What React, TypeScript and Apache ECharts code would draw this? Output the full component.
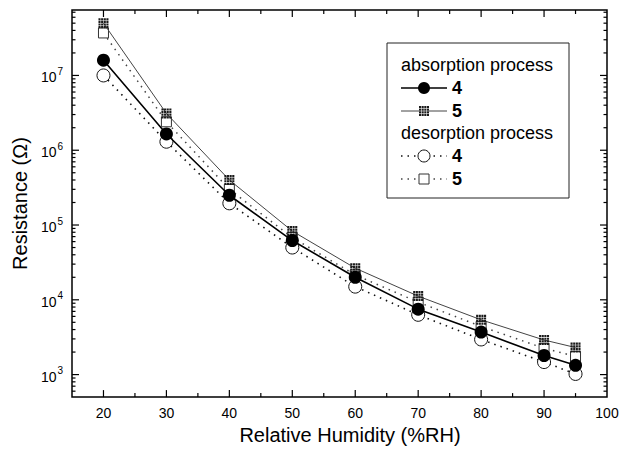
import React, { useEffect, useRef } from "react";
import * as echarts from "echarts";

// ---- data ----
const humidity = [20, 30, 40, 50, 60, 70, 80, 90, 95];
const absorption4 = [1.6e7, 1.65e6, 2.5e5, 6.2e4, 2.0e4, 7.5e3, 3.7e3, 1.8e3, 1.33e3];
const absorption5 = [5.0e7, 3.1e6, 4.0e5, 8.3e4, 2.65e4, 1.12e4, 5.4e3, 2.9e3, 2.3e3];
const desorption4 = [1.0e7, 1.3e6, 1.95e5, 5.0e4, 1.5e4, 6.3e3, 2.95e3, 1.47e3, 1.02e3];
const desorption5 = [3.7e7, 2.4e6, 3.0e5, 6.8e4, 2.15e4, 9.3e3, 4.4e3, 2.25e3, 1.75e3];

const xMin = 15;
const xMax = 100;
const yMin = 500;
const yMax = 7.5e7;

const xTickValues = [20, 25, 30, 35, 40, 45, 50, 55, 60, 65, 70, 75, 80, 85, 90, 95];
const yDecades = [100, 1000, 10000, 100000, 1000000, 10000000];
const yMinorMultipliers = [1, 2, 3, 4, 5, 6, 7, 8, 9];

const FONT = "'Liberation Sans', Arial, Helvetica, sans-serif";

function gridSquarePath() {
  let d = "";
  const cell = 2.4;
  const gap = 0.6;
  for (let i = 0; i < 4; i++) {
    for (let j = 0; j < 4; j++) {
      const x = i * (cell + gap);
      const y = j * (cell + gap);
      d += `M${x},${y}h${cell}v${cell}h-${cell}z`;
    }
  }
  return "path://" + d;
}

function gridSquareRects(cx: number, cy: number, size: number, z: number) {
  const items: any[] = [
    { type: "rect", shape: { x: cx - size / 2, y: cy - size / 2, width: size, height: size }, style: { fill: "#fff" }, z },
  ];
  const cell = size / 4.75;
  const gap = (size - 4 * cell) / 3;
  for (let i = 0; i < 4; i++) {
    for (let j = 0; j < 4; j++) {
      items.push({
        type: "rect",
        shape: { x: cx - size / 2 + i * (cell + gap), y: cy - size / 2 + j * (cell + gap), width: cell, height: cell },
        style: { fill: "#1a1a1a" },
        z: z + 1,
      });
    }
  }
  return items;
}

export default function App() {
  const ref = useRef<HTMLDivElement>(null);

  useEffect(() => {
    if (!ref.current) return;
    const chart = echarts.init(ref.current, null, { renderer: "svg" });

    const yTickData: number[][] = [];
    yDecades.forEach((d) => {
      yMinorMultipliers.forEach((m) => {
        const v = d * m;
        if (v > yMin && v < yMax) yTickData.push([xMin, v, m === 1 ? 1 : 0]);
      });
    });
    const xTickData = xTickValues.map((x) => [x, yMin, x % 10 === 0 ? 1 : 0]);

    const isPow10 = (v: number) => {
      const l = Math.log10(v);
      return Math.abs(l - Math.round(l)) < 1e-6;
    };

    const mk = (xs: number[], ys: number[]) => xs.map((x, i) => [x, ys[i]]);

    const legendX = 401;
    const legendLineEnd = 447;
    const legendMarkX = 424;
    const rows = { h1: 65, a4: 88, a5: 111, h2: 133, d4: 156, d5: 179 };

    const labelStyle = (text: string, y: number, bold: boolean, x: number) => ({
      type: "text",
      x,
      y,
      style: {
        text,
        fontSize: 18,
        fontWeight: bold ? "bold" : "normal",
        fontFamily: FONT,
        fill: "#000",
        verticalAlign: "middle",
      },
      z: 11,
    });

    const option: any = {
      animation: false,
      backgroundColor: "#fff",
      textStyle: { fontFamily: FONT },
      grid: {
        left: 72,
        right: 27,
        top: 10,
        bottom: 46,
        show: true,
        borderColor: "#000",
        borderWidth: 1.5,
        backgroundColor: "transparent",
      },
      xAxis: {
        type: "value",
        min: xMin,
        max: xMax,
        interval: 5,
        axisLine: { show: false },
        axisTick: { show: false },
        splitLine: { show: false },
        axisLabel: {
          color: "#000",
          fontSize: 14,
          fontFamily: FONT,
          margin: 9,
          formatter: (v: number) => (v % 10 === 0 ? String(v) : ""),
        },
        name: "Relative Humidity (%RH)",
        nameLocation: "middle",
        nameGap: 25,
        nameTextStyle: { color: "#000", fontSize: 20, fontFamily: FONT, padding: [0, 0, 0, 21] },
      },
      yAxis: {
        type: "log",
        logBase: 10,
        min: yMin,
        max: yMax,
        axisLine: { show: false },
        axisTick: { show: false },
        splitLine: { show: false },
        axisLabel: {
          color: "#000",
          margin: 9,
          formatter: (v: number) => {
            if (!isPow10(v)) return "";
            const e = Math.round(Math.log10(v));
            return `{b|10}{s|${e}}`;
          },
          rich: {
            b: { fontSize: 14, fontFamily: FONT, color: "#000", lineHeight: 18, verticalAlign: "bottom" },
            s: { fontSize: 10, fontFamily: FONT, color: "#000", lineHeight: 18, verticalAlign: "top", padding: [0, 0, 0, 1] },
          },
        },
        name: "Resistance (\u03A9)",
        nameLocation: "middle",
        nameGap: 35,
        nameTextStyle: { color: "#000", fontSize: 20, fontFamily: FONT },
      },
      series: [
        {
          name: "desorption 5",
          type: "line",
          data: mk(humidity, desorption5),
          symbol: "rect",
          symbolSize: 10,
          lineStyle: { color: "#444", width: 1.5, type: [1.5, 5] },
          itemStyle: { color: "#fff", borderColor: "#333", borderWidth: 1 },
          z: 2,
        },
        {
          name: "desorption 4",
          type: "line",
          data: mk(humidity, desorption4),
          symbol: "circle",
          symbolSize: 13,
          lineStyle: { color: "#111", width: 1.6, type: [1.5, 5] },
          itemStyle: { color: "#fff", borderColor: "#111", borderWidth: 1 },
          z: 3,
        },
        {
          name: "absorption 5",
          type: "line",
          data: mk(humidity, absorption5),
          symbol: gridSquarePath(),
          symbolSize: 10,
          lineStyle: { color: "#444", width: 1 },
          itemStyle: { color: "#1a1a1a" },
          z: 4,
        },
        {
          name: "absorption 4",
          type: "line",
          data: mk(humidity, absorption4),
          symbol: "circle",
          symbolSize: 13,
          lineStyle: { color: "#000", width: 1.6 },
          itemStyle: { color: "#000" },
          z: 5,
        },
        {
          type: "custom",
          silent: true,
          clip: false,
          data: yTickData,
          encode: { x: 0, y: 1 },
          z: 6,
          renderItem: (params: any, api: any) => {
            const v = api.value(1);
            const major = api.value(2);
            const L = api.coord([xMin, v]);
            const R = api.coord([xMax, v]);
            const len = major ? 7 : 3.5;
            return {
              type: "group",
              children: [
                { type: "line", shape: { x1: L[0], y1: L[1], x2: L[0] + len, y2: L[1] }, style: { stroke: "#000", lineWidth: 1.2 } },
                { type: "line", shape: { x1: R[0], y1: R[1], x2: R[0] - len, y2: R[1] }, style: { stroke: "#000", lineWidth: 1.2 } },
              ],
            };
          },
        },
        {
          type: "custom",
          silent: true,
          clip: false,
          data: xTickData,
          encode: { x: 0, y: 1 },
          z: 6,
          renderItem: (params: any, api: any) => {
            const x = api.value(0);
            const major = api.value(2);
            const B = api.coord([x, yMin]);
            const T = api.coord([x, yMax]);
            const len = major ? 7 : 4;
            return {
              type: "group",
              children: [
                { type: "line", shape: { x1: B[0], y1: B[1], x2: B[0], y2: B[1] - len }, style: { stroke: "#000", lineWidth: 1.2 } },
                { type: "line", shape: { x1: T[0], y1: T[1], x2: T[0], y2: T[1] + len }, style: { stroke: "#000", lineWidth: 1.2 } },
              ],
            };
          },
        },
      ],
      graphic: [
        {
          type: "rect",
          shape: { x: 387, y: 43, width: 182, height: 155 },
          style: { fill: "#fff", stroke: "#222", lineWidth: 1 },
          z: 10,
        },
        labelStyle("absorption process", rows.h1, false, legendX),
        {
          type: "line",
          shape: { x1: legendX, y1: rows.a4, x2: legendLineEnd, y2: rows.a4 },
          style: { stroke: "#000", lineWidth: 1.6 },
          z: 11,
        },
        { type: "circle", shape: { cx: legendMarkX, cy: rows.a4, r: 6 }, style: { fill: "#000" }, z: 12 },
        labelStyle("4", rows.a4, true, 452),
        {
          type: "line",
          shape: { x1: legendX, y1: rows.a5, x2: legendLineEnd, y2: rows.a5 },
          style: { stroke: "#444", lineWidth: 1 },
          z: 11,
        },
        ...gridSquareRects(legendMarkX, rows.a5, 10, 12),
        labelStyle("5", rows.a5, true, 452),
        labelStyle("desorption process", rows.h2, false, legendX),
        {
          type: "line",
          shape: { x1: legendX, y1: rows.d4, x2: legendLineEnd, y2: rows.d4 },
          style: { stroke: "#111", lineWidth: 1.6, lineDash: [1.5, 5] },
          z: 11,
        },
        { type: "circle", shape: { cx: legendMarkX, cy: rows.d4, r: 6 }, style: { fill: "#fff", stroke: "#111", lineWidth: 1 }, z: 12 },
        labelStyle("4", rows.d4, true, 452),
        {
          type: "line",
          shape: { x1: legendX, y1: rows.d5, x2: legendLineEnd, y2: rows.d5 },
          style: { stroke: "#444", lineWidth: 1.6, lineDash: [1.5, 5] },
          z: 11,
        },
        {
          type: "rect",
          shape: { x: legendMarkX - 5, y: rows.d5 - 5, width: 10, height: 10 },
          style: { fill: "#fff", stroke: "#333", lineWidth: 1 },
          z: 12,
        },
        labelStyle("5", rows.d5, true, 452),
      ],
    };

    chart.setOption(option);
    return () => chart.dispose();
  }, []);

  return (
    <div
      ref={ref}
      style={{ position: "absolute", left: 0, top: 0, width: 634, height: 450, background: "#fff" }}
    />
  );
}
